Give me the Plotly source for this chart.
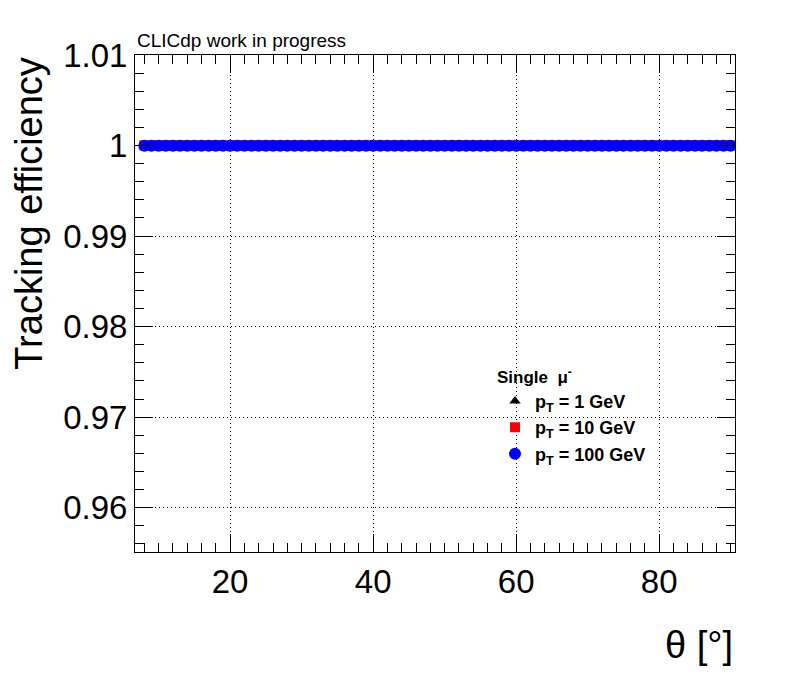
import plotly.graph_objects as go

theta = list(range(8, 91))
eff_1gev = [0.99995,0.99995,0.99993,0.99995,0.99992,0.99995,0.99994,0.99991,0.99990,0.99991,0.99994,0.99995,0.99993,0.99995,0.99994,0.99995,0.99993,0.99994,0.99992,0.99991,0.99995,0.99993,0.99992,0.99994,0.99995,0.99994,0.99991,0.99990,0.99993,0.99995,
            0.99994,0.99995,0.99993,0.99995,0.99994,0.99995,0.99992,0.99993,0.99991,0.99990,0.99992,0.99995,0.99994,0.99991,0.99993,0.99994,0.99995,0.99993,0.99994,0.99995,
            0.99994,0.99995,0.99993,0.99992,0.99995,0.99994,0.99995,0.99993,0.99994,0.99995,0.99994,0.99995,0.99993,0.99995,0.99994,0.99992,0.99995,0.99993,0.99994,0.99995,
            0.99994,0.99995,0.99993,0.99995,0.99994,0.99992,0.99995,0.99993,0.99994,0.99995,0.99994,0.99995,0.99995]
eff_10gev = [1.00002] * len(theta)
eff_100gev = [0.99998] * len(theta)
err = [0.00004] * len(theta)

fig = go.Figure()
fig.add_trace(go.Scatter(x=theta, y=eff_1gev, mode="markers", name="<b>p<sub>T</sub> = 1 GeV</b>",
                         marker=dict(symbol="triangle-up", color="black", size=10),
                         error_y=dict(type="data", array=err, color="black", thickness=1, width=4)))
fig.add_trace(go.Scatter(x=theta, y=eff_10gev, mode="markers", name="<b>p<sub>T</sub> = 10 GeV</b>",
                         marker=dict(symbol="square", color="red", size=10),
                         error_y=dict(type="data", array=err, color="red", thickness=1, width=0)))
fig.add_trace(go.Scatter(x=theta, y=eff_100gev, mode="markers", name="<b>p<sub>T</sub> = 100 GeV</b>",
                         marker=dict(symbol="circle", color="blue", size=12),
                         error_y=dict(type="data", array=err, color="blue", thickness=1, width=0)))

axis_common = dict(showline=True, linecolor="black", linewidth=1, mirror="allticks",
                   ticks="inside", ticklen=18, tickcolor="black",
                   showgrid=True, gridcolor="black", griddash="1px,3px", gridwidth=1,
                   zeroline=False, tickfont=dict(size=33, color="black"))
fig.update_xaxes(range=[6.7, 90.6], dtick=20, **axis_common)
fig.update_yaxes(range=[0.9551, 1.01], dtick=0.01, **axis_common)
fig.update_yaxes(minor=dict(ticks="inside", ticklen=9, tickcolor="black", nticks=5, showgrid=False))
fig.update_xaxes(minor=dict(ticks="inside", ticklen=9, tickcolor="black", nticks=10, showgrid=False))

fig.update_layout(
    width=798, height=676, plot_bgcolor="white", paper_bgcolor="white",
    margin=dict(l=127, r=71, t=47, b=132, autoexpand=False),
    font=dict(family="Liberation Sans, Arial, sans-serif", color="black"),
    showlegend=True,
    legend=dict(x=0.6, y=0.385, xanchor="left", yanchor="top", bgcolor="rgba(0,0,0,0)",
                title=dict(text="<b>Single  μ<sup>-</sup></b>", font=dict(size=17)),
                font=dict(size=18), itemwidth=30, tracegroupgap=0),
    annotations=[
        dict(text="CLICdp work in progress", xref="paper", yref="paper", x=0, y=1.005,
             xanchor="left", yanchor="bottom", showarrow=False, font=dict(size=19)),
        dict(text="Tracking efficiency", xref="paper", yref="paper", x=-0.178, y=1.0,
             xanchor="center", yanchor="top", textangle=-90, showarrow=False, font=dict(size=38)),
        dict(text="θ [°]", xref="paper", yref="paper", x=1.0, y=-0.14,
             xanchor="right", yanchor="top", showarrow=False, font=dict(size=38)),
    ],
)
fig.write_html("out.html")
